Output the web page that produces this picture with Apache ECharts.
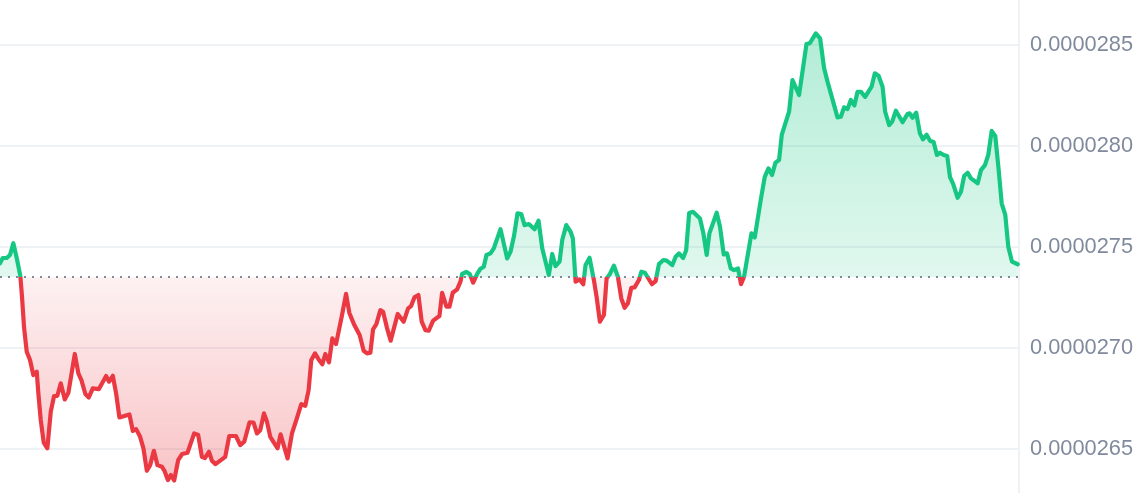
<!DOCTYPE html>
<html>
<head>
<meta charset="utf-8">
<style>html,body{margin:0;padding:0;background:#fff}#c{width:1145px;height:493px}</style>
<script src="https://cdn.jsdelivr.net/npm/echarts@6/dist/echarts.min.js"></script>
</head>
<body>
<div id="c"></div>
<script>
// Price values are in units of 1e-7; times are arbitrary sequential time units.
const baseline = 273.52;
const tickValues = [265, 270, 275, 280, 285];
const times = [0,2.7,6.7,10,13.3,16.7,20.3,22,24,26.7,30,33.3,36.7,38.3,40.7,43.7,47.3,50.7,54,57.3,60.7,64.7,68.3,74.7,78.3,81.3,85.3,88.7,92.7,98.7,106,109,112.7,116,119.3,129.3,132.7,136,140,143.3,146.7,150,153.7,157.3,161.7,164.3,167.7,170.7,174,178,182,187.3,194,198,201.7,204.7,208.7,211.7,215.3,225,229,235.7,240,244,249.3,253.3,256.7,260,263.7,266.7,270,277.3,280.3,287.3,291.7,296,301,305,308.3,311,314.7,318.3,322,325,328.7,332,335.7,341.7,345.7,349,354,359.3,363.3,366.7,370,372.7,376,380,382.7,386.7,390.3,397.3,403.3,407.7,410.7,414,418,421.3,425,428.3,432.7,439,441.7,446,449,452.3,456.7,460,461.7,466,469.3,472.7,476.7,480,483.3,486,490,493.3,500,506.7,510,513.5,517,520.7,524,528.3,534,538,541.7,548.3,551.7,555,559,561.7,565.7,570,572.3,575,579,582.7,585,589,593.3,596,599.3,603.3,606,609.3,613.3,617.3,620.7,624,627.3,630.7,634,638.3,640.7,644.3,651.3,655,658.3,662.7,666,671.7,675,678.3,682.5,685.5,688.5,692.3,699.3,702.7,706,708.7,716,719.3,723,726.3,730,733.3,737.3,740.3,743.3,750.7,754,760,764,767.7,771.3,774.7,778.3,781,788.3,791.7,798.3,805.7,809,815,819.3,823.3,826.7,836.7,840,843.3,846.7,850,853.5,856.7,860,864.3,870.7,874,877.7,881.7,884.3,888.3,891.3,895,901.7,906.7,908.7,911.7,915.3,919,922,925.7,929.3,932.7,936,939,942.7,946.3,949,952.3,956.7,960,963.3,966.7,970,976.7,980,984,987.3,990.7,994.3,997.7,1000.7,1004.3,1007.3,1011,1016.7];
const prices = [274.20,274.46,274.46,274.61,275.19,274.46,273.58,272.53,271.04,269.82,269.41,268.67,268.83,267.78,266.44,265.32,265.04,266.85,267.63,267.64,268.26,267.46,267.79,269.71,268.75,268.42,267.73,267.56,268.01,267.97,268.62,268.34,268.63,267.76,266.57,266.72,265.90,265.99,265.61,265.04,263.93,264.21,264.92,264.21,264.13,263.93,263.47,263.72,263.45,264.46,264.76,264.82,265.78,265.70,264.62,264.56,264.87,264.43,264.26,264.62,265.65,265.65,265.20,265.37,266.33,266.31,265.78,265.94,266.77,266.36,265.61,265.04,265.73,264.54,265.78,266.44,267.23,267.15,267.92,269.41,269.74,269.44,269.20,269.71,269.30,270.48,270.20,271.64,272.69,271.74,271.14,270.65,269.87,269.74,269.77,270.93,271.19,271.88,271.80,270.98,270.37,271.69,271.31,271.97,272.08,272.51,272.63,271.31,270.89,270.86,271.36,271.59,272.74,272.05,272.05,272.74,272.91,273.29,273.67,273.77,273.67,273.24,273.67,273.93,274.03,274.61,274.69,274.94,275.89,274.44,274.77,275.55,276.67,276.64,276.09,276.14,275.88,276.31,274.94,273.62,274.66,274.06,274.28,275.35,276.09,275.76,275.43,273.29,273.40,273.16,274.11,274.47,273.37,272.54,271.31,271.64,273.45,273.67,274.08,273.53,272.46,272.00,272.22,272.99,273.01,273.37,273.78,273.73,273.16,273.32,274.16,274.36,274.33,274.11,274.52,274.69,274.46,274.85,276.69,276.75,276.42,275.68,274.61,275.68,276.70,276.01,274.64,274.69,273.95,273.86,273.95,273.17,273.53,275.68,275.48,277.33,278.48,278.90,278.57,279.18,279.31,280.55,281.70,283.27,282.53,285.05,285.09,285.58,285.33,283.85,283.19,281.42,281.45,281.92,281.83,282.28,282.01,282.69,282.69,282.44,282.94,283.60,283.48,282.94,281.70,281.04,281.21,281.75,281.18,281.59,281.62,281.40,281.65,280.63,280.33,280.56,280.25,280.20,279.56,279.67,279.56,279.51,278.48,278.12,277.44,277.74,278.53,278.68,278.40,278.16,278.81,279.06,279.56,280.75,280.50,278.81,277.17,276.59,275.02,274.28,274.15];

const GREEN = '#16c784', RED = '#ea3943', GRID = '#eff2f5', TEXT = '#808a9d';
const chart = echarts.init(document.getElementById('c'), null, {renderer: 'canvas'});
const points = times.map((t, i) => [t, prices[i]]);

chart.setOption({
  animation: false,
  grid: {left: 0, right: 126, top: 0, bottom: 0},
  xAxis: {type: 'value', min: 0, max: 1018, show: false},
  yAxis: {
    type: 'value', position: 'right', min: 262.83, max: 287.23, scale: true,
    axisLine: {show: true, onZero: false, lineStyle: {color: GRID, width: 2}},
    axisTick: {show: false, customValues: tickValues},
    axisLabel: {
      customValues: tickValues, margin: 11, color: TEXT,
      fontFamily: 'Liberation Sans', fontSize: 21.8,
      formatter: v => (v / 1e7).toFixed(7)
    },
    splitLine: {show: true, lineStyle: {color: GRID, width: 2}}
  },
  series: [{
    type: 'line', data: points, showSymbol: false, smooth: false,
    lineStyle: {width: 4.2, join: 'round', cap: 'round'},
    markLine: {
      silent: true, symbol: 'none', label: {show: false},
      lineStyle: {color: TEXT, type: [2, 6], width: 2},
      data: [{yAxis: baseline}]
    }
  }]
});

// Line and fill change hue at the baseline, using the scale's own pixel positions.
const yOf = v => chart.convertToPixel({yAxisIndex: 0}, v);
const y0 = yOf(Math.max(...prices)), y1 = yOf(Math.min(...prices)), yB = yOf(baseline);
const k = (yB - y0) / (y1 - y0);
const split = stops => ({type: 'linear', global: true, x: 0, y: y0, x2: 0, y2: y1, colorStops: stops});
chart.setOption({series: [{
  lineStyle: {color: split([
    {offset: 0, color: GREEN}, {offset: k, color: GREEN},
    {offset: k, color: RED}, {offset: 1, color: RED}
  ])},
  areaStyle: {
    origin: baseline, opacity: 1,
    color: split([
      {offset: 0, color: 'rgba(22,199,132,0.33)'},
      {offset: k, color: 'rgba(22,199,132,0.13)'},
      {offset: k, color: 'rgba(234,57,67,0.07)'},
      {offset: 1, color: 'rgba(234,57,67,0.30)'}
    ])
  }
}]});
</script>
</body>
</html>
